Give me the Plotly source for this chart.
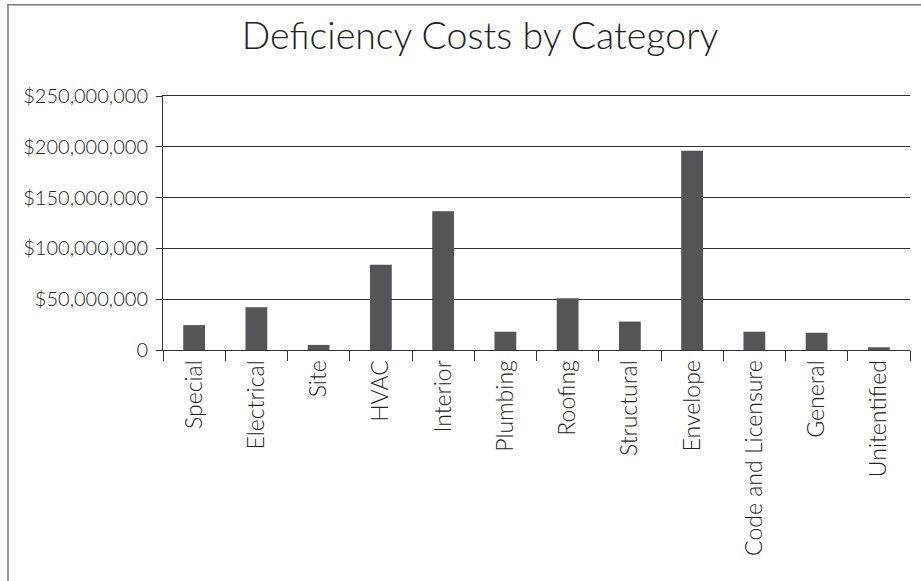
import plotly.graph_objects as go

categories = ["Special", "Electrical", "Site", "HVAC", "Interior", "Plumbing", "Roofing",
              "Structural", "Envelope", "Code and Licensure", "General", "Unitentified"]
costs = [24_500_000, 42_000_000, 5_000_000, 84_000_000, 136_500_000, 18_000_000, 51_000_000,
         28_000_000, 196_000_000, 18_000_000, 17_000_000, 2_700_000]
y_ticks = [0, 50_000_000, 100_000_000, 150_000_000, 200_000_000, 250_000_000]
y_tick_labels = ["0", "$50,000,000", "$100,000,000", "$150,000,000", "$200,000,000", "$250,000,000"]

W, H = 921, 581
L, R, T, B = 163, 11, 96, 231
pw, ph = W - L - R, H - T - B

def px_x(p):
    return (p - L) / pw

def px_y(p):
    return (H - B - p) / ph

FONT = "Lato"
TXT = "#222222"
LINE = "#333333"

fig = go.Figure(go.Bar(
    x=categories, y=costs,
    marker=dict(color="#555558", line=dict(width=0)),
    width=0.35,
))

fig.update_layout(
    width=W, height=H,
    margin=dict(l=L, r=R, t=T, b=B, autoexpand=False),
    paper_bgcolor="white", plot_bgcolor="white",
    font=dict(family=FONT, size=20, color=TXT, weight=300),
    title=dict(text="Deficiency Costs by Category", x=px_x(480), xanchor="center",
               y=1 - 36 / H, yanchor="middle", xref="paper",
               font=dict(family=FONT, size=37.5, color=TXT, weight=300)),
    showlegend=False,
    shapes=[dict(type="rect", xref="paper", yref="paper",
                 x0=px_x(8), x1=px_x(940), y0=px_y(600), y1=px_y(4.7),
                 line=dict(color="#7a7a7a", width=1.5), fillcolor="rgba(0,0,0,0)", layer="below")],
)

fig.update_xaxes(
    type="category", tickangle=-90, tickson="boundaries",
    ticks="outside", ticklen=10, tickcolor=LINE, tickwidth=1,
    showline=True, linecolor=LINE, linewidth=1, mirror=True,
    showgrid=False, zeroline=False,
    tickfont=dict(family=FONT, size=23, color=TXT, weight=300),
)
fig.update_yaxes(
    range=[0, 250_000_000], tickvals=y_ticks, ticktext=y_tick_labels,
    ticks="outside", ticklen=6, tickcolor=LINE, tickwidth=1, ticklabelstandoff=4,
    showline=True, linecolor=LINE, linewidth=1,
    showgrid=True, gridcolor=LINE, gridwidth=1, zeroline=False,
    tickfont=dict(family=FONT, size=20, color=TXT, weight=300),
)

fig.write_html("out.html", config={"displayModeBar": False},
               post_script="document.body.style.margin='0';")
